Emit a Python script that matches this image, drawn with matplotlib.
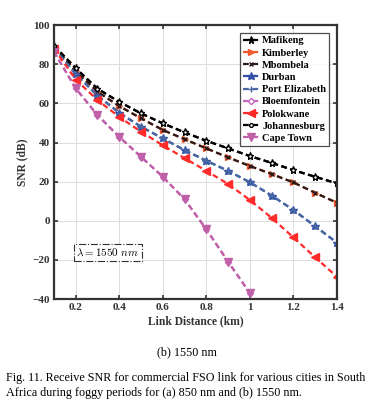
import numpy as np
import matplotlib.pyplot as plt

plt.rcParams['font.family'] = ['Liberation Serif', 'DejaVu Serif']
plt.rcParams['mathtext.fontset'] = 'cm'

# link distance (km)
dist = [0.1, 0.2, 0.3, 0.4, 0.5, 0.6, 0.7, 0.8, 0.9, 1.0, 1.1, 1.2, 1.3, 1.4]
dist_short = dist[:10]

# SNR (dB)
mafikeng = [89.5, 78.0, 67.5, 60.8, 54.9, 49.8, 45.2, 40.9, 37.0, 33.1, 29.6, 25.9, 22.5, 19.1]
kimberley = [88.8, 76.5, 66.0, 58.6, 52.4, 46.4, 41.7, 37.0, 32.4, 28.0, 23.9, 19.6, 14.3, 9.2]
mbombela = [88.8, 76.5, 66.0, 58.6, 52.4, 46.4, 41.7, 37.0, 32.4, 28.0, 23.9, 19.6, 14.3, 9.2]
durban = [88.3, 75.0, 64.0, 55.2, 48.1, 42.1, 36.1, 30.7, 25.5, 19.7, 12.9, 5.5, -2.8, -11.2]
port_elizabeth = [88.3, 75.0, 64.0, 55.2, 48.1, 42.1, 36.1, 30.7, 25.5, 19.7, 12.9, 5.5, -2.8, -11.2]
bloemfontein = [86.4, 67.7, 54.0, 42.9, 32.7, 22.5, 11.0, -4.4, -20.9, -37.0]
polokwane = [88.0, 72.2, 61.7, 53.1, 45.5, 38.6, 32.0, 25.5, 18.8, 10.6, 1.5, -8.5, -18.7, -28.6]
johannesburg = [89.5, 78.0, 67.5, 60.8, 54.9, 49.8, 45.2, 40.9, 37.0, 33.1, 29.6, 25.9, 22.5, 19.1]
cape_town = [86.4, 67.7, 54.0, 42.9, 32.7, 22.5, 11.0, -4.4, -20.9, -37.0]

fig = plt.figure(figsize=(3.72, 4.12), dpi=100)
ax = fig.add_axes([0.145, 0.274, 0.761, 0.665])

lw = 1.6
ms = 4.2
dash = (2.6, 1.6)
ax.plot(dist, mafikeng, '--', dashes=dash, color='black', marker='*', ms=ms + 1, lw=lw, label='Mafikeng')
ax.plot(dist, kimberley, '--', dashes=dash, color='#f25a2e', marker='>', ms=ms, lw=lw, label='Kimberley')
ax.plot(dist, mbombela, '--', dashes=dash, color='#2a1a1a', marker='x', ms=ms - 1, mew=1.0, lw=lw,
        label='Mbombela')
ax.plot(dist, durban, '--', dashes=dash, color='#3050a8', marker='*', ms=ms + 2, lw=lw, label='Durban')
ax.plot(dist, port_elizabeth, '--', dashes=dash, color='#4a68a0', marker='+', ms=ms, lw=lw,
        label='Port Elizabeth')
ax.plot(dist_short, bloemfontein, '--', dashes=dash, color='#c868c0', marker='D', ms=ms - 1, mfc='white',
        lw=lw, label='Bloemfontein')
ax.plot(dist, polokwane, '--', dashes=dash, color='#ff2a2a', marker='<', ms=ms + 1, lw=lw, label='Polokwane')
ax.plot(dist, johannesburg, '--', dashes=dash, color='black', marker='o', ms=ms - 1.5, mfc='white', lw=lw,
        label='Johannesburg')
ax.plot(dist_short, cape_town, '--', dashes=dash, color='#c060a8', marker='v', ms=ms + 1, lw=lw,
        label='Cape Town')

ax.set_xlim(0.1, 1.4)
ax.set_ylim(-40, 100)
ax.set_xticks([0.2, 0.4, 0.6, 0.8, 1.0, 1.2, 1.4])
ax.set_xticklabels(['0.2', '0.4', '0.6', '0.8', '1', '1.2', '1.4'])
ax.set_yticks(range(-40, 101, 20))
ax.grid(True, color='#dcdcdc', lw=0.7)
ax.set_axisbelow(True)
ax.tick_params(direction='in', top=True, right=True, length=3, width=1.2, labelsize=8, colors='#333333',
               pad=3)
for lab in ax.get_xticklabels() + ax.get_yticklabels():
    lab.set_fontweight('bold')
for s in ax.spines.values():
    s.set_linewidth(1.6)
    s.set_color('#333333')

ax.set_xlabel('Link Distance (km)', fontsize=8.3, fontweight='bold', color='#333333', labelpad=2)
ax.set_ylabel('SNR (dB)', fontsize=8.3, fontweight='bold', color='#333333', labelpad=3)

leg = ax.legend(loc='upper right', frameon=True, fancybox=False, edgecolor='#222222',
                borderpad=0.3, labelspacing=0.28, handlelength=1.5, handletextpad=0.3,
                borderaxespad=0.75, prop={'weight': 'bold', 'size': 7.5})
leg.get_frame().set_linewidth(0.9)

ax.text(0.347, -16.3, r'$\lambda = 1550\ nm$', fontsize=8, ha='center', va='center',
        bbox=dict(boxstyle='square,pad=0.25', fc='white', ec='#333333', ls='-.', lw=0.8))

fig.text(0.503, 0.146, '(b) 1550 nm', fontsize=8.7, ha='center', va='center')
fig.text(0.016, 0.083, 'Fig. 11. Receive SNR for commercial FSO link for various cities in South',
         fontsize=8.7, ha='left', va='center')
fig.text(0.016, 0.046, 'Africa during foggy periods for (a) 850 nm and (b) 1550 nm.',
         fontsize=8.7, ha='left', va='center')

fig.savefig('out.png', dpi=100)
